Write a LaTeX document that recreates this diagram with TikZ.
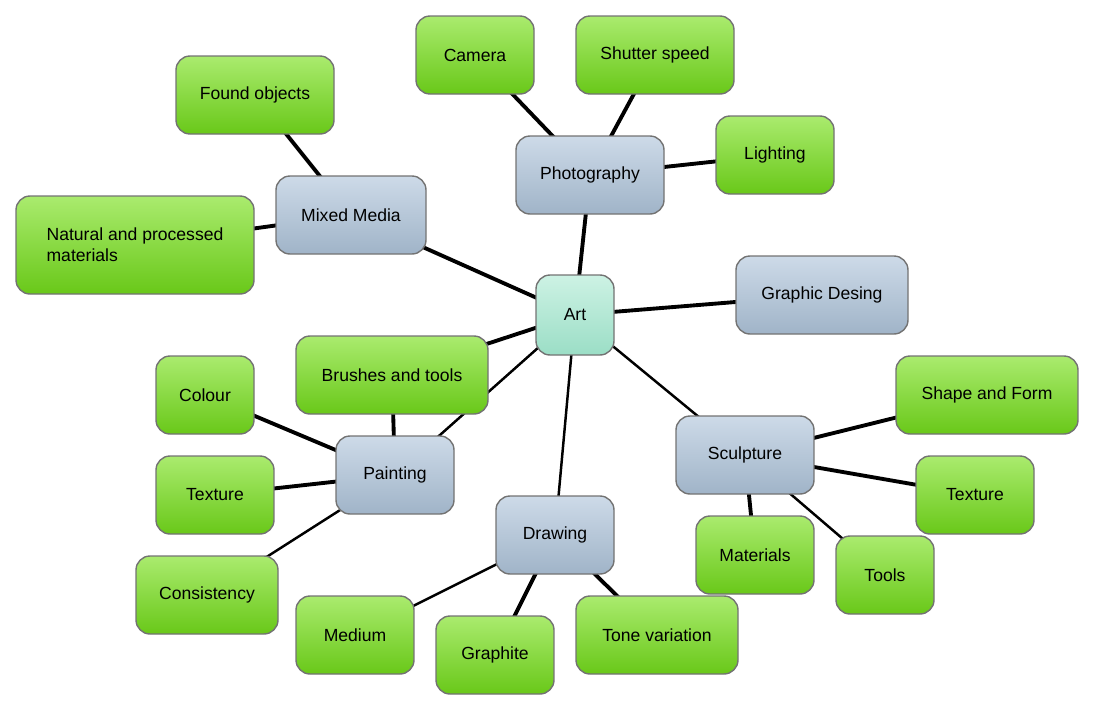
\documentclass[tikz,border=0pt]{standalone}
\usepackage{fontspec}
\setmainfont{Liberation Sans}
\usetikzlibrary{backgrounds}
\definecolor{gtop}{RGB}{170,235,110}
\definecolor{gbot}{RGB}{105,200,25}
\definecolor{btop}{RGB}{205,218,232}
\definecolor{bbot}{RGB}{160,180,200}
\definecolor{atop}{RGB}{205,242,228}
\definecolor{abot}{RGB}{155,222,198}
\tikzset{
 box/.style={draw=black!55,line width=0.8pt,rounded corners=8pt,font=\fontsize{10}{12}\selectfont,align=left,inner sep=0pt},
 leaf/.style={box,top color=gtop,bottom color=gbot},
 mid/.style={box,top color=btop,bottom color=bbot},
 root/.style={box,top color=atop,bottom color=abot},
 sz/.style 2 args={minimum width=#1*0.02cm,minimum height=#2*0.02cm},
 link/.style={line width=2.2pt},
 thin/.style={line width=1.4pt}
}
\begin{document}
\begin{tikzpicture}[x=0.02cm,y=-0.02cm]
\useasboundingbox (0,0) rectangle (1100,720);
\node[root,sz={78}{80}] (art) at (575,315) {Art};
\node[mid,sz={148}{78}] (photo) at (590,175) {Photography};
\node[leaf,sz={118}{78}] (camera) at (475,55) {Camera};
\node[leaf,sz={158}{78}] (shutter) at (655,55) {Shutter speed};
\node[leaf,sz={118}{78}] (light) at (775,155) {Lighting};
\node[mid,sz={150}{78}] (mixed) at (351,215) {Mixed Media};
\node[leaf,sz={158}{78}] (found) at (255,95) {Found objects};
\node[leaf,sz={238}{98}] (natural) at (135,245) {Natural and processed\\materials};
\node[mid,sz={172}{78}] (graphic) at (822,295) {Graphic Desing};
\node[leaf,sz={192}{78}] (brushes) at (392,375) {Brushes and tools};
\node[leaf,sz={98}{78}] (colour) at (205,395) {Colour};
\node[mid,sz={118}{78}] (painting) at (395,475) {Painting};
\node[leaf,sz={118}{78}] (textureL) at (215,495) {Texture};
\node[leaf,sz={142}{78}] (consist) at (207,595) {Consistency};
\node[mid,sz={118}{78}] (drawing) at (555,535) {Drawing};
\node[leaf,sz={118}{78}] (medium) at (355,635) {Medium};
\node[leaf,sz={118}{78}] (graphite) at (495,655) {Graphite};
\node[leaf,sz={162}{78}] (tone) at (657,635) {Tone variation};
\node[mid,sz={138}{78}] (sculpt) at (745,455) {Sculpture};
\node[leaf,sz={182}{78}] (shape) at (987,395) {Shape and Form};
\node[leaf,sz={118}{78}] (textureR) at (975,495) {Texture};
\node[leaf,sz={118}{78}] (materials) at (755,555) {Materials};
\node[leaf,sz={98}{78}] (tools) at (885,575) {Tools};
\begin{scope}[on background layer]
\draw[link] (art.center) -- (photo.center);
\draw[link] (art.center) -- (mixed.center);
\draw[link] (art.center) -- (graphic.center);
\draw[link] (art.center) -- (brushes.center);
\draw[thin] (art.center) -- (painting.center);
\draw[thin] (art.center) -- (drawing.center);
\draw[thin] (art.center) -- (sculpt.center);
\draw[link] (photo.center) -- (camera.center);
\draw[link] (photo.center) -- (shutter.center);
\draw[link] (photo.center) -- (light.center);
\draw[link] (mixed.center) -- (found.center);
\draw[link] (mixed.center) -- (natural.center);
\draw[link] (painting.center) -- (brushes.center);
\draw[link] (painting.center) -- (colour.center);
\draw[link] (painting.center) -- (textureL.center);
\draw[thin] (painting.center) -- (consist.center);
\draw[thin] (drawing.center) -- (medium.center);
\draw[link] (drawing.center) -- (graphite.center);
\draw[link] (drawing.center) -- (tone.center);
\draw[link] (sculpt.center) -- (shape.center);
\draw[link] (sculpt.center) -- (textureR.center);
\draw[link] (sculpt.center) -- (materials.center);
\draw[thin] (sculpt.center) -- (tools.center);
\end{scope}
\end{tikzpicture}
\end{document}
